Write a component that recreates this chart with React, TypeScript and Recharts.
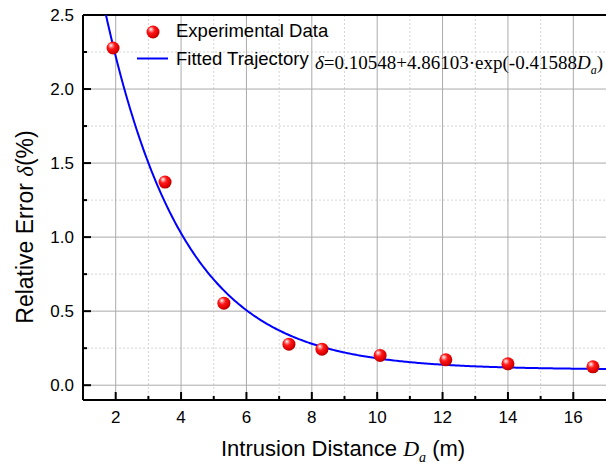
import React from "react";
import {
  ComposedChart,
  Line,
  Scatter,
  XAxis,
  YAxis,
  CartesianGrid,
} from "recharts";

// Measured relative error at each intrusion distance
const distances = [1.92, 3.51, 5.31, 7.3, 8.31, 10.09, 12.1, 14.0, 16.6];
const errors = [2.277, 1.372, 0.554, 0.277, 0.243, 0.201, 0.171, 0.144, 0.124];

// Fit coefficients: delta = A + B * exp(-k * Da)
const FIT_A = 0.10548;
const FIT_B = 4.86103;
const FIT_K = 0.41588;
const fitStart = 1.7;
const fitEnd = 17;
const fitStep = 0.05;

// Axis ticks
const xMajor = [2, 4, 6, 8, 10, 12, 14, 16];
const xMinor = [3, 5, 7, 9, 11, 13, 15];
const yMajor = [0, 0.5, 1, 1.5, 2, 2.5];
const yMinor = [0.25, 0.75, 1.25, 1.75, 2.25];
const xDomain = [1, 17];
const yDomain = [-0.1, 2.5];

const points = distances.map((x, i) => ({ x, y: errors[i] }));
const curve: { x: number; y: number }[] = [];
for (let x = fitStart; x <= fitEnd + 1e-9; x += fitStep) {
  curve.push({ x, y: FIT_A + FIT_B * Math.exp(-FIT_K * x) });
}

const SANS = "'Liberation Sans', Arial, sans-serif";
const SERIF = "'Liberation Serif', 'Times New Roman', serif";

const Ball = (props: any) => {
  const { cx, cy } = props;
  if (cx == null || cy == null) return null;
  return <circle cx={cx} cy={cy} r={6.5} fill="url(#ballGrad)" />;
};

const XTick = (props: any) => {
  const { x, y, payload } = props;
  const major = xMajor.includes(payload.value);
  return (
    <g>
      <line x1={x} x2={x} y1={y} y2={y - (major ? 8 : 4)} stroke="#000" strokeWidth={2} />
      {major && (
        <text x={x} y={y + 23} textAnchor="middle" fontSize={17} fontFamily={SANS} fill="#000">
          {payload.value}
        </text>
      )}
    </g>
  );
};

const YTick = (props: any) => {
  const { x, y, payload } = props;
  const major = yMajor.includes(payload.value);
  return (
    <g>
      <line x1={x} x2={x + (major ? 8 : 4)} y1={y} y2={y} stroke="#000" strokeWidth={2} />
      {major && (
        <text x={x - 9} y={y + 6} textAnchor="end" fontSize={17} fontFamily={SANS} fill="#000">
          {payload.value.toFixed(1)}
        </text>
      )}
    </g>
  );
};

// grid line positions from the plot offset and the axis domains
const xGrid = (values: number[]) => (args: any) => {
  const o = args.offset;
  return values.map((v) => o.left + ((v - xDomain[0]) / (xDomain[1] - xDomain[0])) * o.width);
};
const yGrid = (values: number[]) => (args: any) => {
  const o = args.offset;
  return values.map((v) => o.top + ((yDomain[1] - v) / (yDomain[1] - yDomain[0])) * o.height);
};

export default function App() {
  return (
    <div style={{ position: "absolute", left: 0, top: 0, width: 606, height: 464, background: "#fff" }}>
      <ComposedChart
        width={606}
        height={464}
        margin={{ top: 15, right: 0, bottom: 0, left: 0 }}
      >
        <CartesianGrid
          stroke="#d4d4d4"
          strokeDasharray="2 2"
          verticalCoordinatesGenerator={xGrid(xMinor)}
          horizontalCoordinatesGenerator={yGrid(yMinor)}
        />
        <CartesianGrid
          stroke="#ababab"
          verticalCoordinatesGenerator={xGrid(xMajor)}
          horizontalCoordinatesGenerator={yGrid(yMajor.slice(0, -1))}
        />
        <CartesianGrid
          stroke="#000"
          strokeWidth={2}
          vertical={false}
          horizontalCoordinatesGenerator={yGrid([yDomain[1]])}
        />
        <XAxis
          type="number"
          dataKey="x"
          domain={xDomain}
          ticks={[...xMajor, ...xMinor].sort((a, b) => a - b)}
          allowDataOverflow
          height={64}
          tickSize={0}
          tickMargin={0}
          tickLine={false}
          axisLine={{ stroke: "#000", strokeWidth: 2 }}
          tick={<XTick />}
          interval={0}
        />
        <YAxis
          type="number"
          dataKey="y"
          domain={yDomain}
          ticks={[...yMajor, ...yMinor].sort((a, b) => a - b)}
          allowDataOverflow
          width={83}
          tickSize={0}
          tickMargin={0}
          tickLine={false}
          axisLine={{ stroke: "#000", strokeWidth: 2 }}
          tick={<YTick />}
          interval={0}
        />
        <Line
          data={curve}
          dataKey="y"
          stroke="#0000ff"
          strokeWidth={2}
          dot={false}
          activeDot={false}
          isAnimationActive={false}
          type="linear"
        />
        <Scatter data={points} dataKey="y" shape={<Ball />} isAnimationActive={false} />
      </ComposedChart>

      <svg
        width={606}
        height={464}
        style={{ position: "absolute", left: 0, top: 0, pointerEvents: "none" }}
      >
        <defs>
          <radialGradient id="ballGrad" cx="0.42" cy="0.4" r="0.62" fx="0.33" fy="0.28">
            <stop offset="0%" stopColor="#ffffff" />
            <stop offset="18%" stopColor="#ff9a9a" />
            <stop offset="42%" stopColor="#ff1a1a" />
            <stop offset="80%" stopColor="#e00000" />
            <stop offset="100%" stopColor="#a80000" />
          </radialGradient>
        </defs>

        {/* legend */}
        <circle cx={153} cy={32} r={6.5} fill="url(#ballGrad)" />
        <text x={176} y={37} fontSize={18.5} fontFamily={SANS} fill="#000">
          Experimental Data
        </text>
        <line x1={137} x2={168} y1={58.5} y2={58.5} stroke="#0000ff" strokeWidth={2} />
        <text x={176} y={65} fontSize={18.5} fontFamily={SANS} fill="#000">
          Fitted Trajectory
        </text>
        <text x={315} y={68.5} fontSize={19} fontFamily={SERIF} fill="#000">
          <tspan fontStyle="italic">δ</tspan>
          <tspan>=0.10548+4.86103·exp(-0.41588</tspan>
          <tspan fontStyle="italic">D</tspan>
          <tspan fontStyle="italic" fontSize={12} dy={5}>a</tspan>
          <tspan dy={-5}>)</tspan>
        </text>

        {/* axis titles */}
        <text x={221} y={456} fontSize={22} fontFamily={SANS} fill="#000">
          Intrusion Distance{" "}
          <tspan fontStyle="italic" fontFamily={SERIF}>D</tspan>
          <tspan fontStyle="italic" fontFamily={SERIF} fontSize={14} dy={6}>a</tspan>
          <tspan dy={-6}> (m)</tspan>
        </text>
        <text
          x={33}
          y={227}
          transform="rotate(-90 33 227)"
          textAnchor="middle"
          fontSize={23}
          fontFamily={SANS}
          fill="#000"
        >
          Relative Error{" "}
          <tspan fontStyle="italic" fontFamily={SERIF}>δ</tspan>
          <tspan>(%)</tspan>
        </text>
      </svg>
    </div>
  );
}
